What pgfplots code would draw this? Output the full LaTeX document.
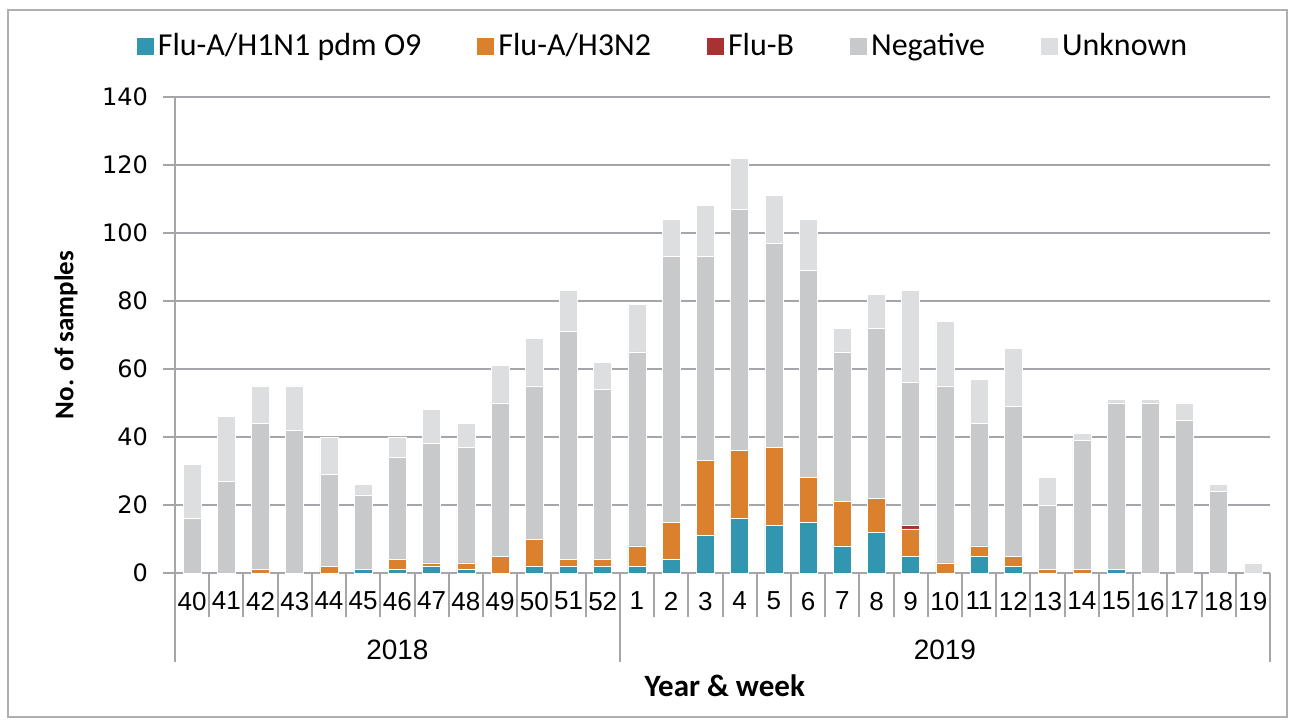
\documentclass[border=0pt]{standalone}
\usepackage{fontspec}
\setmainfont{Carlito}
\newfontfamily\dejavu{DejaVu Sans}
\newfontfamily\libsans{Liberation Sans}
\usepackage{pgfplots}
\pgfplotsset{compat=1.18}
\usepackage{pgfplotstable}
\definecolor{cHone}{RGB}{50,150,176}
\definecolor{cHthree}{RGB}{219,128,44}
\definecolor{cFluB}{RGB}{168,50,50}
\definecolor{cNeg}{RGB}{200,201,203}
\definecolor{cUnk}{RGB}{221,222,224}
\definecolor{gridgray}{RGB}{165,165,170}
\definecolor{framegray}{RGB}{175,175,178}

\pgfplotstableread{
idx h1 h3 fb neg unk
0 0 0 0 16 16
1 0 0 0 27 19
2 0 1 0 43 11
3 0 0 0 42 13
4 0 2 0 27 11
5 1 0 0 22 3
6 1 3 0 30 6
7 2 1 0 35 10
8 1 2 0 34 7
9 0 5 0 45 11
10 2 8 0 45 14
11 2 2 0 67 12
12 2 2 0 50 8
13 2 6 0 57 14
14 4 11 0 78 11
15 11 22 0 60 15
16 16 20 0 71 15
17 14 23 0 60 14
18 15 13 0 61 15
19 8 13 0 44 7
20 12 10 0 50 10
21 5 8 1 42 27
22 0 3 0 52 19
23 5 3 0 36 13
24 2 3 0 44 17
25 0 1 0 19 8
26 0 1 0 38 2
27 1 0 0 49 1
28 0 0 0 50 1
29 0 0 0 45 5
30 0 0 0 24 2
31 0 0 0 0 3
}\data

\begin{document}
\begin{tikzpicture}[x=1pt,y=1pt]
\useasboundingbox (0,0) rectangle (647,361);
\draw[framegray, line width=0.8pt] (4,2.5) rectangle (643.5,356);
\begin{axis}[
  at={(87.5pt,74.5pt)}, anchor=south west,
  scale only axis, width=547.5pt, height=238pt,
  clip=false,
  ybar stacked, bar width=9pt,
  xmin=-0.5, xmax=31.5, ymin=0, ymax=140,
  axis lines*=left,
  axis line style={draw=gridgray, line width=1pt},
  xtick={0,...,31},
  xticklabels={40,41,42,43,44,45,46,47,48,49,50,51,52,1,2,3,4,5,6,7,8,9,10,11,12,13,14,15,16,17,18,19},
  xtick style={/pgfplots/major tick length=0pt},
  minor xtick={-0.5,0.5,...,31.5},
  minor tick length=22pt,
  major tick length=6pt,
  tick align=outside,
  tick style={draw=gridgray, line width=1pt},
  minor tick style={draw=gridgray, line width=1pt},
  ytick={0,20,...,140},
  ymajorgrids,
  grid style={draw=gridgray, line width=1pt},
  /pgf/number format/assume math mode=true,
  xticklabel style={font=\libsans\fontsize{13}{15}\selectfont, yshift=0pt},
  yticklabel style={font=\dejavu\fontsize{12}{14}\selectfont, xshift=-4pt},
  ylabel={No. of samples},
  ylabel style={font=\bfseries\fontsize{13.5}{15}\selectfont, at={(axis description cs:-0.0995,0.5)}, anchor=center},
  xlabel={Year \& week},
  xlabel style={font=\bfseries\fontsize{15.5}{17}\selectfont, at={(axis description cs:0.502,-0.237)}, anchor=center},
  legend style={at={(0.4466,1.107)}, anchor=center, legend columns=5, draw=none, fill=none,
    font=\fontsize{16}{18}\selectfont,
    /tikz/every even column/.append style={column sep=26pt}},
  legend image code/.code={\fill[#1,draw=none] (0pt,-4.25pt) rectangle (8.5pt,4.25pt);},
  every axis plot/.append style={draw=white, line width=0.3pt},
]
\addplot[fill=cHone] table[x=idx,y=h1]{\data};
\addplot[fill=cHthree] table[x=idx,y=h3]{\data};
\addplot[fill=cFluB] table[x=idx,y=fb]{\data};
\addplot[fill=cNeg] table[x=idx,y=neg]{\data};
\addplot[fill=cUnk] table[x=idx,y=unk]{\data};
\legend{Flu-A/H1N1 pdm O9, Flu-A/H3N2, Flu-B, Negative, Unknown}
\draw[gridgray, line width=1pt] (axis cs:-0.5,0) -- ++(0pt,-44.5pt);
\draw[gridgray, line width=1pt] (axis cs:12.5,0) -- ++(0pt,-44.5pt);
\draw[gridgray, line width=1pt] (axis cs:31.5,0) -- ++(0pt,-44.5pt);
\node[font=\libsans\fontsize{14}{16}\selectfont] at (axis cs:6,0) [yshift=-38.5pt] {2018};
\node[font=\libsans\fontsize{14}{16}\selectfont] at (axis cs:22,0) [yshift=-38.5pt] {2019};
\end{axis}
\end{tikzpicture}
\end{document}
